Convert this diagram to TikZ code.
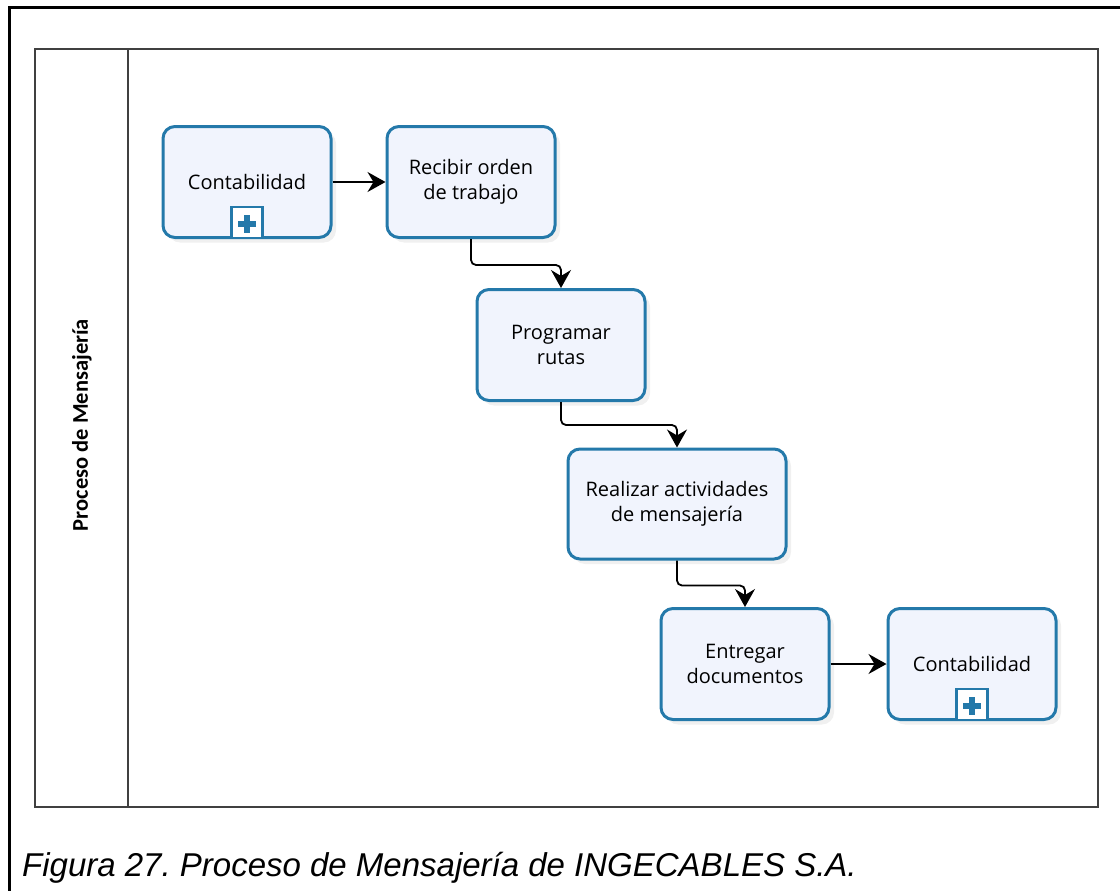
\documentclass[tikz,border=0pt]{standalone}
\usepackage{fontspec}
\setmainfont{Open Sans}
\newfontfamily\lanefont{Carlito}
\newfontfamily\capfont{Liberation Sans}
\usetikzlibrary{calc}
\usetikzlibrary{arrows.meta}
\usetikzlibrary{shadows}
\definecolor{taskblue}{RGB}{36,121,170}
\definecolor{taskfill}{RGB}{241,244,253}
\definecolor{poolgray}{RGB}{64,64,64}
\frenchspacing

\begin{document}
\begin{tikzpicture}[x=1pt,y=-1pt,
  task/.style={draw=taskblue,line width=3pt,fill=taskfill,rounded corners=12pt,
    minimum width=168pt,minimum height=111pt,align=center,
    font=\fontsize{20}{25}\selectfont,
    drop shadow={opacity=.12,shadow xshift=5pt,shadow yshift=-5pt}},
  subproc/.style={draw=taskblue,line width=2.5pt,fill=white,inner sep=0pt,
    minimum width=31pt,minimum height=31pt,
    path picture={
      \draw[taskblue,line width=5.5pt] ([xshift=-9pt,yshift=-1.5pt]path picture bounding box.center) -- ([xshift=9pt,yshift=-1.5pt]path picture bounding box.center);
      \draw[taskblue,line width=5.5pt] ([yshift=-10.5pt]path picture bounding box.center) -- ([yshift=7.5pt]path picture bounding box.center);}},
  flow/.style={line width=1.8pt,rounded corners=5pt,-{Stealth[length=18pt,width=20pt,inset=6pt]}}]
\useasboundingbox (0,0) rectangle (1120,891);

% frame and pool
\draw[line width=3pt] (9,891) -- (9,8) -- (1120,8);
\coordinate(P) at (35,49);
\coordinate(Q) at (1098,807);
\draw[poolgray,line width=2pt] (P) rectangle (Q);
\draw[poolgray,line width=2pt] (128,49) -- (128,807);
\node[rotate=90,font=\lanefont\bfseries\fontsize{22.5}{26}\selectfont] (lane) at (82,425) {Proceso de Mensajería};

% tasks
\node[task] (t1) at (247,182) {Contabilidad};
\node[subproc,anchor=south] (t1sub) at (t1.south) {};
\node[task] (t2) at (471,182) {Recibir orden\\de trabajo};
\node[task] (t3) at (561,345) {Programar\\rutas};
\node[task,minimum width=218pt,minimum height=110pt] (t4) at (677,504) {Realizar actividades\\de mensajería};
\node[task] (t5) at (745,664) {Entregar\\documentos};
\node[task] (t6) at (972,664) {Contabilidad};
\node[subproc,anchor=south] (t6sub) at (t6.south) {};

% flows
\draw[flow] (t1.east) -- (t2.west);
\draw[flow] (t2.south) -- ++(0,26) -| (t3.north);
\draw[flow] (t3.south) -- ++(0,23) -| (t4.north);
\draw[flow] (t4.south) -- ++(0,25) -| (t5.north);
\draw[flow] (t5.east) -- (t6.west);

\node[anchor=base west,inner sep=0pt,font=\capfont\itshape\fontsize{33}{38}\selectfont] (cap) at (22,876) {Figura 27. Proceso de Mensajería de INGECABLES S.A.};
\end{tikzpicture}
\end{document}
